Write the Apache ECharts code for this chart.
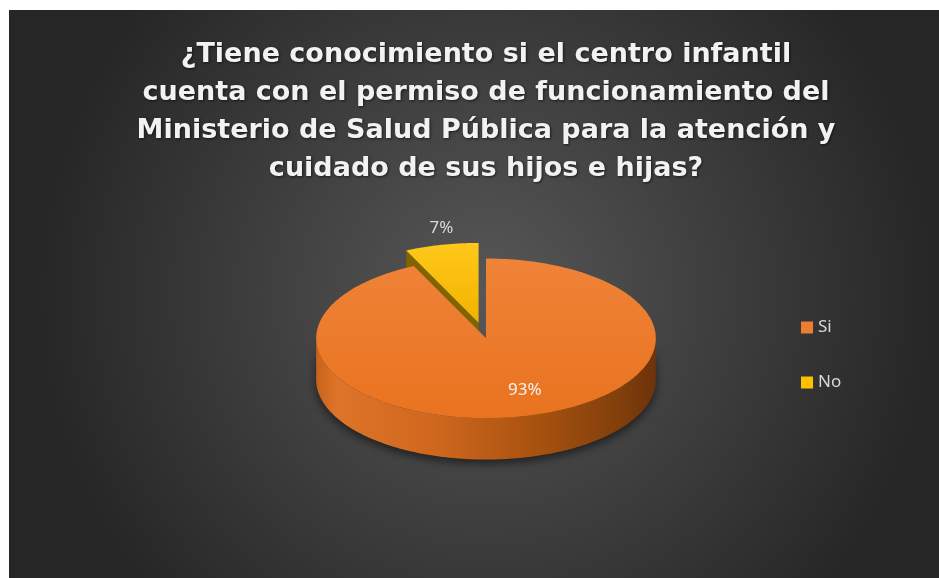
<!DOCTYPE html>
<html>
<head>
<meta charset="utf-8">
<script src="https://cdn.jsdelivr.net/npm/echarts@6/dist/echarts.min.js"></script>
<style>
  html, body { margin: 0; padding: 0; background: #fff; overflow: hidden; }
  #main { position: absolute; left: 9px; top: 10px; width: 954px; height: 568px; }
</style>
</head>
<body>
<div id="main"></div>
<script>
// datos del grafico
const categories = ['Si', 'No']
const values = [93, 7]
const colors = ['#ED7D31', '#FFC000']
const explode = [0, 0.2] // porcion separada (No)
const titleLines = [
  '¿Tiene conocimiento si el centro infantil',
  'cuenta con el permiso de funcionamiento del',
  'Ministerio de Salud Pública para la atención y',
  'cuidado de sus hijos e hijas?'
]

const sideColors = ['#b85a16', '#7f6400']
const topGradients = [
  ['#EF8338', '#E9731F'],
  ['#FFC81A', '#F2B300']
]

const total = values.reduce((a, b) => a + b, 0)

function buildSlice(i, api) {
  const W = api.getWidth()
  const H = api.getHeight()
  const cx = W * 0.5
  const cy = H * 0.578
  const rx = W * 0.178
  const ry = rx * 0.47
  const depth = ry * 0.52

  let before = 0
  for (let k = 0; k < i; k++) before += values[k]
  const v = api.value(0)
  const a0 = before / total * Math.PI * 2
  const a1 = (before + v) / total * Math.PI * 2
  const mid = (a0 + a1) / 2
  const ox = explode[i] * rx * Math.sin(mid)
  const oy = -explode[i] * ry * Math.cos(mid)

  const P = (a, r, dz) => [cx + ox + rx * r * Math.sin(a), cy + oy - ry * r * Math.cos(a) + (dz || 0)]
  const arc = (from, to, dz) => {
    const pts = []
    const n = Math.max(2, Math.ceil((to - from) / 0.02))
    for (let j = 0; j <= n; j++) pts.push(P(from + (to - from) * j / n, 1, dz))
    return pts
  }

  const children = []
  // caras radiales
  ;[a0, a1].forEach(a => {
    children.push({
      type: 'polygon',
      shape: { points: [P(0, 0), P(a, 1), P(a, 1, depth), P(0, 0, depth)] },
      style: { fill: sideColors[i] }
    })
  })
  // pared frontal
  const f0 = Math.max(a0, Math.PI / 2)
  const f1 = Math.min(a1, Math.PI * 3 / 2)
  if (f1 > f0) {
    children.push({
      type: 'polygon',
      shape: { points: arc(f0, f1, 0).concat(arc(f0, f1, depth).reverse()) },
      style: {
        fill: {
          type: 'linear', x: 0, y: 0, x2: 1, y2: 0,
          colorStops: [
            { offset: 0, color: '#c9621b' },
            { offset: 0.06, color: '#dd7428' },
            { offset: 0.35, color: '#cf671e' },
            { offset: 0.65, color: '#a8520f' },
            { offset: 0.88, color: '#83400b' },
            { offset: 1, color: '#6e330a' }
          ]
        },
        shadowBlur: 10,
        shadowColor: 'rgba(0,0,0,0.55)',
        shadowOffsetY: 4
      }
    })
  }
  // cara superior
  children.push({
    type: 'polygon',
    shape: { points: [P(0, 0)].concat(arc(a0, a1, 0)) },
    style: {
      fill: {
        type: 'linear', x: 0, y: 0, x2: 0, y2: 1,
        colorStops: [
          { offset: 0, color: topGradients[i][0] },
          { offset: 1, color: topGradients[i][1] }
        ]
      }
    }
  })
  // etiqueta de porcentaje
  const pct = Math.round(v / total * 100) + '%'
  const inside = v / total > 0.5
  const k = inside ? 0.67 : 1.42
  children.push({
    type: 'text',
    style: {
      text: pct,
      x: cx + rx * k * Math.sin(mid) + (inside ? 14 : 8),
      y: cy - ry * k * Math.cos(mid),
      fill: inside ? '#F2F2F2' : '#D9D9D9',
      fontSize: 17,
      fontFamily: 'Noto Sans',
      align: 'center',
      verticalAlign: 'middle'
    }
  })
  return { type: 'group', children: children }
}

// No va primero para quedar detras
const order = [1, 0]
const series = order.map(i => ({
  name: categories[i],
  type: 'custom',
  coordinateSystem: 'none',
  z: 2 + (i === 0 ? 1 : 0),
  itemStyle: { color: colors[i] },
  renderItem: (params, api) => buildSlice(i, api),
  data: [[values[i]]]
}))

const option = {
  animation: false,
  backgroundColor: {
    type: 'radial', x: 0.5, y: 0.5, r: 0.8,
    colorStops: [
      { offset: 0, color: '#575757' },
      { offset: 1, color: '#262626' }
    ]
  },
  title: {
    text: titleLines.join('\n'),
    left: 'center',
    top: 21,
    textStyle: {
      color: '#F2F2F2',
      fontSize: 27,
      fontWeight: 'bold',
      fontFamily: 'DejaVu Sans',
      lineHeight: 38,
      textShadowColor: 'rgba(0,0,0,0.6)',
      textShadowBlur: 3,
      textShadowOffsetX: 1,
      textShadowOffsetY: 1
    }
  },
  legend: {
    data: categories,
    orient: 'vertical',
    left: 787,
    top: 304,
    itemGap: 38,
    itemWidth: 12,
    itemHeight: 12,
    icon: 'rect',
    selectedMode: false,
    textStyle: { color: '#D9D9D9', fontSize: 17, fontFamily: 'Noto Sans' }
  },
  series: series
}

const myChart = echarts.init(document.getElementById('main'))
myChart.setOption(option)
window.onresize = function() {
  myChart.resize()
}
</script>
</body>
</html>
